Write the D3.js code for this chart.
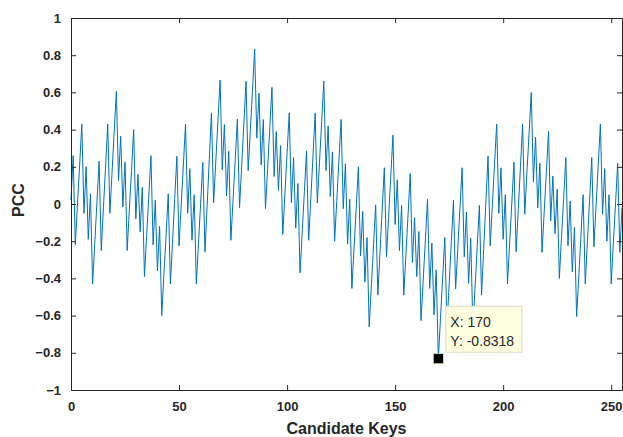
<!DOCTYPE html>
<html>
<head>
<meta charset="utf-8">
<script src="https://cdn.jsdelivr.net/npm/d3@7"></script>
<style>
  html, body { margin: 0; padding: 0; background: #fff; }
  svg { display: block; font-family: "Liberation Sans", Arial, Helvetica, sans-serif; }
</style>
</head>
<body>
<svg id="chart" width="623" height="437"></svg>
<script>
// Correlation (PCC) of each of the 256 candidate key bytes
const pcc = [
  0.02, 0.26, -0.22, 0.0, 0.21, 0.43, -0.05, 0.20, -0.19, 0.055,
  -0.43, -0.21, 0.01, 0.23, -0.25, -0.02, 0.20, 0.43, -0.05, 0.17,
  0.39, 0.605, 0.127, 0.364, -0.016, 0.225, -0.25, -0.03, 0.18, 0.40,
  -0.08, 0.16, -0.15, 0.09, -0.39, -0.17, 0.04, 0.26, -0.22, 0.02,
  -0.36, -0.12, -0.60, -0.38, -0.17, 0.055, -0.43, -0.20, 0.03, 0.257,
  -0.225, -0.005, 0.21, 0.43, -0.05, 0.19, -0.195, 0.05, -0.43, -0.21,
  0.005, 0.225, -0.257, -0.01, 0.24, 0.49, 0.007, 0.227, 0.446, 0.666,
  0.184, 0.427, 0.043, 0.284, -0.195, 0.022, 0.24, 0.457, -0.02, 0.207,
  0.433, 0.66, 0.18, 0.397, 0.615, 0.8318, 0.354, 0.596, 0.21, 0.454,
  -0.025, 0.192, 0.41, 0.627, 0.148, 0.39, 0.073, 0.314, -0.164, 0.054,
  0.272, 0.49, 0.007, 0.25, -0.13, 0.11, -0.37, -0.152, 0.066, 0.284,
  -0.195, 0.033, 0.261, 0.49, 0.005, 0.223, 0.442, 0.66, 0.18, 0.42,
  0.04, 0.28, -0.2, 0.018, 0.236, 0.454, -0.025, 0.216,
  -0.216, 0.025, -0.454, -0.236, -0.018, 0.2, -0.28, -0.04, -0.42, -0.18,
  -0.66, -0.442, -0.223, -0.005, -0.49, -0.261, -0.033, 0.195, -0.284, -0.066,
  0.152, 0.37, -0.11, 0.13, -0.25, -0.007, -0.49, -0.272, -0.054, 0.164,
  -0.314, -0.073, -0.39, -0.148, -0.627, -0.41, -0.192, 0.025, -0.454, -0.21,
  -0.596, -0.354, -0.8318, -0.615, -0.397, -0.18, -0.66, -0.433, -0.207, 0.02,
  -0.457, -0.24, -0.022, 0.195, -0.284, -0.043, -0.427, -0.184, -0.666, -0.446,
  -0.227, -0.007, -0.49, -0.24, 0.01, 0.257, -0.225, -0.005, 0.21, 0.43,
  -0.05, 0.195, -0.19, 0.05, -0.43, -0.21, 0.005, 0.225, -0.257, -0.03,
  0.20, 0.43, -0.055, 0.17, 0.38, 0.60, 0.12, 0.36, -0.02, 0.22,
  -0.26, -0.04, 0.17, 0.39, -0.09, 0.15, -0.16, 0.08, -0.40, -0.18,
  0.03, 0.25, -0.225, 0.016, -0.364, -0.127, -0.605, -0.39, -0.17, 0.05,
  -0.43, -0.20, 0.02, 0.25, -0.23, -0.01, 0.21, 0.43, -0.055, 0.19,
  -0.20, 0.05, -0.43, -0.21, 0.0, 0.22, -0.26, -0.02
];
const keys = pcc.map((_, i) => i);

const xTicks = [0, 50, 100, 150, 200, 250];
const yTicks = [-1, -0.8, -0.6, -0.4, -0.2, 0, 0.2, 0.4, 0.6, 0.8, 1];
const xDomain = [0, 255];
const yDomain = [-1, 1];

// Data tip on the strongest negative correlation
const tipKey = 170;
const tipLines = ["X: 170", "Y: -0.8318"];

const svg = d3.select("#chart");
const margin = { left: 71, right: 1, top: 18, bottom: 47 };
const W = 623, H = 437;
const x = d3.scaleLinear().domain(xDomain).range([margin.left, W - margin.right]);
const y = d3.scaleLinear().domain(yDomain).range([H - margin.bottom, margin.top]);

const axisColor = "#262626";
const tickLen = 5;

// Plot line
svg.append("path")
  .datum(keys)
  .attr("fill", "none")
  .attr("stroke", "#0072BD")
  .attr("stroke-width", 1)
  .attr("stroke-linejoin", "miter")
  .attr("d", d3.line().x(k => x(k)).y(k => y(pcc[k])));

// Axes (ticks pointing inward, box on all four sides)
function styleAxis(g) {
  g.selectAll("path.domain").attr("stroke", axisColor).attr("stroke-width", 1);
  g.selectAll(".tick line").attr("stroke", axisColor).attr("stroke-width", 1);
  g.selectAll(".tick text")
    .attr("fill", axisColor)
    .style("font-size", "13px")
    .style("font-weight", "bold")
    .style("font-family", "'Liberation Sans', Arial, sans-serif");
}

const xAxis = svg.append("g")
  .attr("transform", `translate(0,${y(-1)})`)
  .call(d3.axisBottom(x).tickValues(xTicks).tickSizeInner(-tickLen).tickSizeOuter(0).tickPadding(12).tickFormat(d3.format("d")));
styleAxis(xAxis);

const xAxisTop = svg.append("g")
  .attr("transform", `translate(0,${y(1)})`)
  .call(d3.axisTop(x).tickValues(xTicks).tickSizeInner(-tickLen).tickSizeOuter(0).tickFormat(""));
styleAxis(xAxisTop);

const yFmt = v => (v === 0 ? "0" : (Math.abs(v) === 1 ? d3.format("d")(v) : d3.format(".1f")(v)));
const yAxis = svg.append("g")
  .attr("transform", `translate(${x(0)},0)`)
  .call(d3.axisLeft(y).tickValues(yTicks).tickSizeInner(-tickLen).tickSizeOuter(0).tickPadding(10).tickFormat(yFmt));
styleAxis(yAxis);

const yAxisRight = svg.append("g")
  .attr("transform", `translate(${x(255)},0)`)
  .call(d3.axisRight(y).tickValues(yTicks).tickSizeInner(-tickLen).tickSizeOuter(0).tickFormat(""));
styleAxis(yAxisRight);

// Axis labels
svg.append("text")
  .attr("x", (x(0) + x(255)) / 2)
  .attr("y", 434)
  .attr("text-anchor", "middle")
  .attr("fill", axisColor)
  .style("font-size", "16px")
  .style("font-weight", "bold")
  .text("Candidate Keys");

svg.append("text")
  .attr("transform", `translate(24,${(y(1) + y(-1)) / 2 - 4}) rotate(-90)`)
  .attr("text-anchor", "middle")
  .attr("fill", axisColor)
  .style("font-size", "16px")
  .style("font-weight", "bold")
  .text("PCC");

// Data tip marker and box
const tx = x(tipKey), ty = y(pcc[tipKey]);
svg.append("rect")
  .attr("x", tx - 5).attr("y", ty - 5)
  .attr("width", 10).attr("height", 10)
  .attr("fill", "#000")
  .attr("stroke", "#f2f2c8")
  .attr("stroke-width", 0.6);

const box = svg.append("g").attr("transform", `translate(${tx + 7},${ty - 53})`);
box.append("rect")
  .attr("x", 0.5).attr("y", 0.5)
  .attr("width", 76).attr("height", 46)
  .attr("fill", "#ffffe1")
  .attr("stroke", "#d9d9c4")
  .attr("stroke-width", 1);
tipLines.forEach((t, i) => {
  box.append("text")
    .attr("x", 5)
    .attr("y", 21 + i * 19)
    .attr("fill", "#262626")
    .style("font-size", "14px")
    .text(t);
});
</script>
</body>
</html>
